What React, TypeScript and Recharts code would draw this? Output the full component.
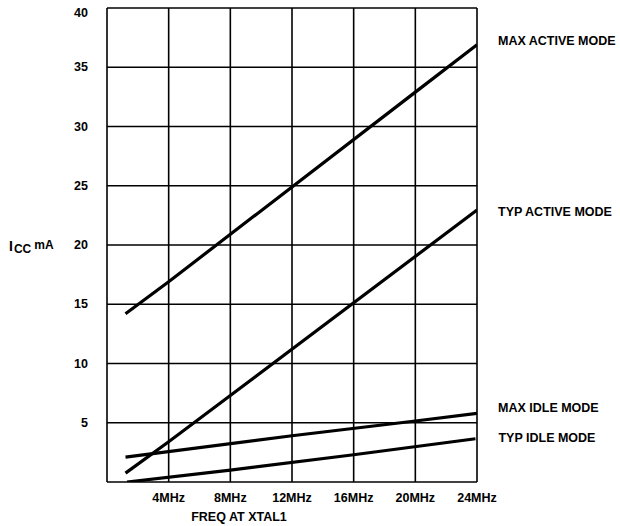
import React from 'react';
import { LineChart, Line, XAxis, YAxis, CartesianGrid, LabelList, Customized } from 'recharts';

const freqTicks = [0, 4, 8, 12, 16, 20, 24];
const iccTicks = [0, 5, 10, 15, 20, 25, 30, 35, 40];

const maxActive = [
  { f: 1.2, i: 14.2 },
  { f: 4, i: 16.9 },
  { f: 20, i: 32.9 },
  { f: 24, i: 36.9 },
];
const typActive = [
  { f: 1.2, i: 0.75 },
  { f: 4, i: 3.4 },
  { f: 8, i: 7.3 },
  { f: 24, i: 22.95 },
];
const maxIdle = [
  { f: 1.2, i: 2.1 },
  { f: 12, i: 3.9 },
  { f: 20, i: 5.15 },
  { f: 24, i: 5.8 },
];
const typIdle = [
  { f: 1.3, i: 0 },
  { f: 8, i: 1.0 },
  { f: 16, i: 2.3 },
  { f: 23.9, i: 3.65 },
];

const seriesLabels = ['MAX ACTIVE MODE', 'TYP ACTIVE MODE', 'MAX IDLE MODE', 'TYP IDLE MODE'];

const FONT = '"Liberation Sans", Arial, Helvetica, sans-serif';

const endLabel = (text: string, lastIndex: number, dy: number, dx: number) => (props: any) => {
  if (props.index !== lastIndex) return null;
  return (
    <text
      x={props.x + dx}
      y={props.y + dy}
      fontFamily={FONT}
      fontWeight={700}
      fontSize={12.5}
      fill="#000"
      dominantBaseline="central"
      textAnchor="start"
    >
      {text}
    </text>
  );
};

const YTick = (props: any) => {
  const { x, y, payload } = props;
  if (payload.value === 0) return null;
  const dy = payload.value === 40 ? 5 : 0;
  return (
    <text x={x} y={y + dy} textAnchor="end" dominantBaseline="central" fontFamily={FONT} fontWeight={700} fontSize={12.5} fill="#000">
      {payload.value}
    </text>
  );
};

const XTick = (props: any) => {
  const { x, y, payload } = props;
  if (payload.value === 0) return null;
  return (
    <text x={x} y={y} textAnchor="middle" dominantBaseline="central" fontFamily={FONT} fontWeight={700} fontSize={12.5} fill="#000">
      {`${payload.value}MHz`}
    </text>
  );
};

const Titles = () => (
  <g fontFamily={FONT} fontWeight={700} fill="#000">
    <text x={9} y={251} fontSize={14}>
      I
      <tspan fontSize={12} dx={1} dy={2}>CC</tspan>
      <tspan fontSize={12} dx={3} dy={-4}>mA</tspan>
    </text>
    <text x={239} y={517} fontSize={12.5} textAnchor="middle" dominantBaseline="central">
      FREQ AT XTAL1
    </text>
  </g>
);

export default function App() {
  return (
    <div style={{ position: 'absolute', left: 0, top: 0 }}>
      <LineChart width={620} height={526} margin={{ top: 8, right: 143, bottom: 0, left: 47 }}>
        <CartesianGrid stroke="#000" strokeWidth={1.6} />
        <XAxis
          type="number"
          dataKey="f"
          domain={[0, 24]}
          ticks={freqTicks}
          interval={0}
          height={44}
          axisLine={false}
          tickLine={false}
          tickSize={0}
          tickMargin={16}
          tick={<XTick />}
          allowDataOverflow
        />
        <YAxis
          type="number"
          dataKey="i"
          domain={[0, 40]}
          ticks={iccTicks}
          interval={0}
          width={60}
          axisLine={false}
          tickLine={false}
          tickSize={0}
          tickMargin={19}
          tick={<YTick />}
          allowDataOverflow
        />
        <Line data={maxActive} dataKey="i" stroke="#000" strokeWidth={3.2} dot={false} isAnimationActive={false} type="linear">
          <LabelList dataKey="i" content={endLabel(seriesLabels[0], maxActive.length - 1, -3.5, 21)} />
        </Line>
        <Line data={typActive} dataKey="i" stroke="#000" strokeWidth={3.2} dot={false} isAnimationActive={false} type="linear">
          <LabelList dataKey="i" content={endLabel(seriesLabels[1], typActive.length - 1, 2, 21)} />
        </Line>
        <Line data={maxIdle} dataKey="i" stroke="#000" strokeWidth={3.2} dot={false} isAnimationActive={false} type="linear">
          <LabelList dataKey="i" content={endLabel(seriesLabels[2], maxIdle.length - 1, -5, 21)} />
        </Line>
        <Line data={typIdle} dataKey="i" stroke="#000" strokeWidth={3.2} dot={false} isAnimationActive={false} type="linear">
          <LabelList dataKey="i" content={endLabel(seriesLabels[3], typIdle.length - 1, -1, 23)} />
        </Line>
        <Customized component={Titles} />
      </LineChart>
    </div>
  );
}
